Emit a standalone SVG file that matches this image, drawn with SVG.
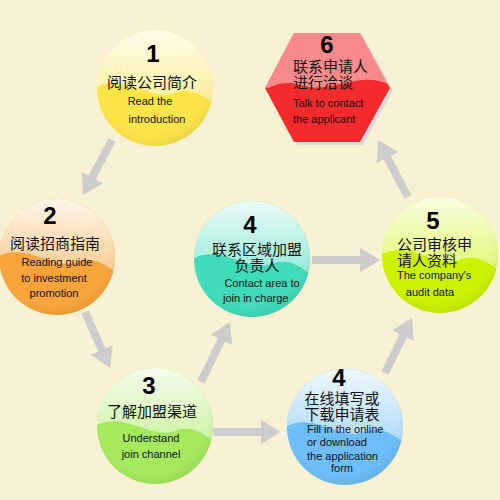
<svg xmlns="http://www.w3.org/2000/svg" width="500" height="500" viewBox="0 0 500 500">
<style>
.num{font-family:"Liberation Sans",Arial,sans-serif;font-size:24px;font-weight:bold;fill:#000;text-anchor:middle}
.cn{font-family:"Liberation Sans","Noto Sans CJK SC",sans-serif;font-size:15px;fill:#111}
.en{font-family:"Liberation Sans",Arial,sans-serif;font-size:11px;fill:#111}
.c{text-anchor:middle}
.arr{stroke:#cdcdcd;stroke-width:8;fill:none;marker-end:url(#head)}
.hl{fill:url(#gloss)}
</style>
<defs>
<marker id="head" markerUnits="userSpaceOnUse" markerWidth="20" markerHeight="24" refX="1" refY="12" orient="auto">
<path d="M0,0 L20,12 L0,24 Z" fill="#cdcdcd"/>
</marker>
<linearGradient id="gloss" x1="0" y1="0" x2="0" y2="1">
<stop offset="0" stop-color="#fff" stop-opacity="0.9"/>
<stop offset="1" stop-color="#fff" stop-opacity="0.45"/>
</linearGradient>
<radialGradient id="shade" cx="0.45" cy="0.4" r="0.6">
<stop offset="0.75" stop-color="#fff" stop-opacity="0"/>
<stop offset="1" stop-color="#000" stop-opacity="0.06"/>
</radialGradient>
<clipPath id="cc"><circle cx="0" cy="0" r="58"/></clipPath>
<path id="wave" d="M-60,0 C-30,-16 -5,14 20,5 C38,-2 50,10 60,16 L60,-60 L-60,-60 Z"/>
</defs>
<rect width="500" height="500" fill="#f9f1d3"/>

<g id="connectors">
<path class="arr" d="M112,140 L91.9,178.2"/>
<path class="arr" d="M85,312 L102.2,350.7"/>
<path class="arr" d="M201,382 L221.7,339.1"/>
<path class="arr" d="M312,260 L361,260"/>
<path class="arr" d="M213,432 L262,432"/>
<path class="arr" d="M385,373 L403.6,335"/>
<path class="arr" d="M408,197 L386.9,156.8"/>
</g>

<g id="node1">
<g transform="translate(155,88)">
<circle r="58" fill="#fde447"/>
<use href="#wave" class="hl" clip-path="url(#cc)"/>
<circle r="58" fill="url(#shade)"/>
</g>
<text class="num" x="153" y="62">1</text>
<text class="cn c" x="152" y="88">阅读公司简介</text>
<text class="en c" x="150" y="105">Read the</text>
<text class="en c" x="157" y="123">introduction</text>
</g>

<g id="node6">
<polygon points="268,91 297,36 363,36 393,91 363,145 297,145" fill="#dcdcdc"/>
<polygon points="265,88 294,33 360,33 390,88 360,142 294,142" fill="#f42a2c"/>
<path d="M265,88 L294,33 L360,33 L388,84 C360,70 330,95 300,85 C285,80 275,85 268,88 Z" fill="#fff" fill-opacity="0.45"/>
<text class="num" x="327" y="53">6</text>
<text class="cn" x="293" y="72">联系申请人</text>
<text class="cn" x="293" y="88">进行洽谈</text>
<text class="en" x="293" y="107">Talk to contact</text>
<text class="en" x="293" y="123">the applicant</text>
</g>

<g id="node2">
<g transform="translate(57,257)">
<circle r="58" fill="#f9a43a"/>
<use href="#wave" class="hl" clip-path="url(#cc)"/>
<circle r="58" fill="url(#shade)"/>
</g>
<text class="num" x="50" y="224">2</text>
<text class="cn c" x="55" y="249">阅读招商指南</text>
<text class="en c" x="57" y="266">Reading guide</text>
<text class="en c" x="54" y="282">to investment</text>
<text class="en c" x="54" y="297">promotion</text>
</g>

<g id="node4a">
<g transform="translate(252,259)">
<circle r="58" fill="#3fdbbb"/>
<use href="#wave" class="hl" clip-path="url(#cc)"/>
<circle r="58" fill="url(#shade)"/>
</g>
<text class="num" x="250" y="233">4</text>
<text class="cn c" x="257" y="255">联系区域加盟</text>
<text class="cn c" x="257" y="271">负责人</text>
<text class="en c" x="262" y="287">Contact area to</text>
<text class="en" x="223" y="302">join in charge</text>
</g>

<g id="node5">
<g transform="translate(440,255)">
<circle r="58" fill="#cdf200"/>
<use href="#wave" class="hl" clip-path="url(#cc)"/>
<circle r="58" fill="url(#shade)"/>
</g>
<text class="num" x="433" y="229">5</text>
<text class="cn" x="397" y="250">公司审核申</text>
<text class="cn" x="397" y="266">请人资料</text>
<text class="en" x="397" y="279">The company's</text>
<text class="en c" x="430" y="296">audit data</text>
</g>

<g id="node3">
<g transform="translate(155,426)">
<circle r="58" fill="#a4ea5c"/>
<use href="#wave" class="hl" clip-path="url(#cc)"/>
<circle r="58" fill="url(#shade)"/>
</g>
<text class="num" x="149" y="394">3</text>
<text class="cn c" x="152" y="417">了解加盟渠道</text>
<text class="en c" x="151" y="442">Understand</text>
<text class="en c" x="151" y="458">join channel</text>
</g>

<g id="node4b">
<g transform="translate(345,427)">
<circle r="58" fill="#6cbdf8"/>
<use href="#wave" class="hl" clip-path="url(#cc)"/>
<circle r="58" fill="url(#shade)"/>
</g>
<text class="num" x="339" y="386">4</text>
<text class="cn c" x="342" y="404">在线填写或</text>
<text class="cn c" x="342" y="420">下载申请表</text>
<text class="en" x="307" y="433">Fill in the online</text>
<text class="en" x="307" y="446">or download</text>
<text class="en" x="307" y="460">the application</text>
<text class="en c" x="342" y="472">form</text>
</g>
</svg>
